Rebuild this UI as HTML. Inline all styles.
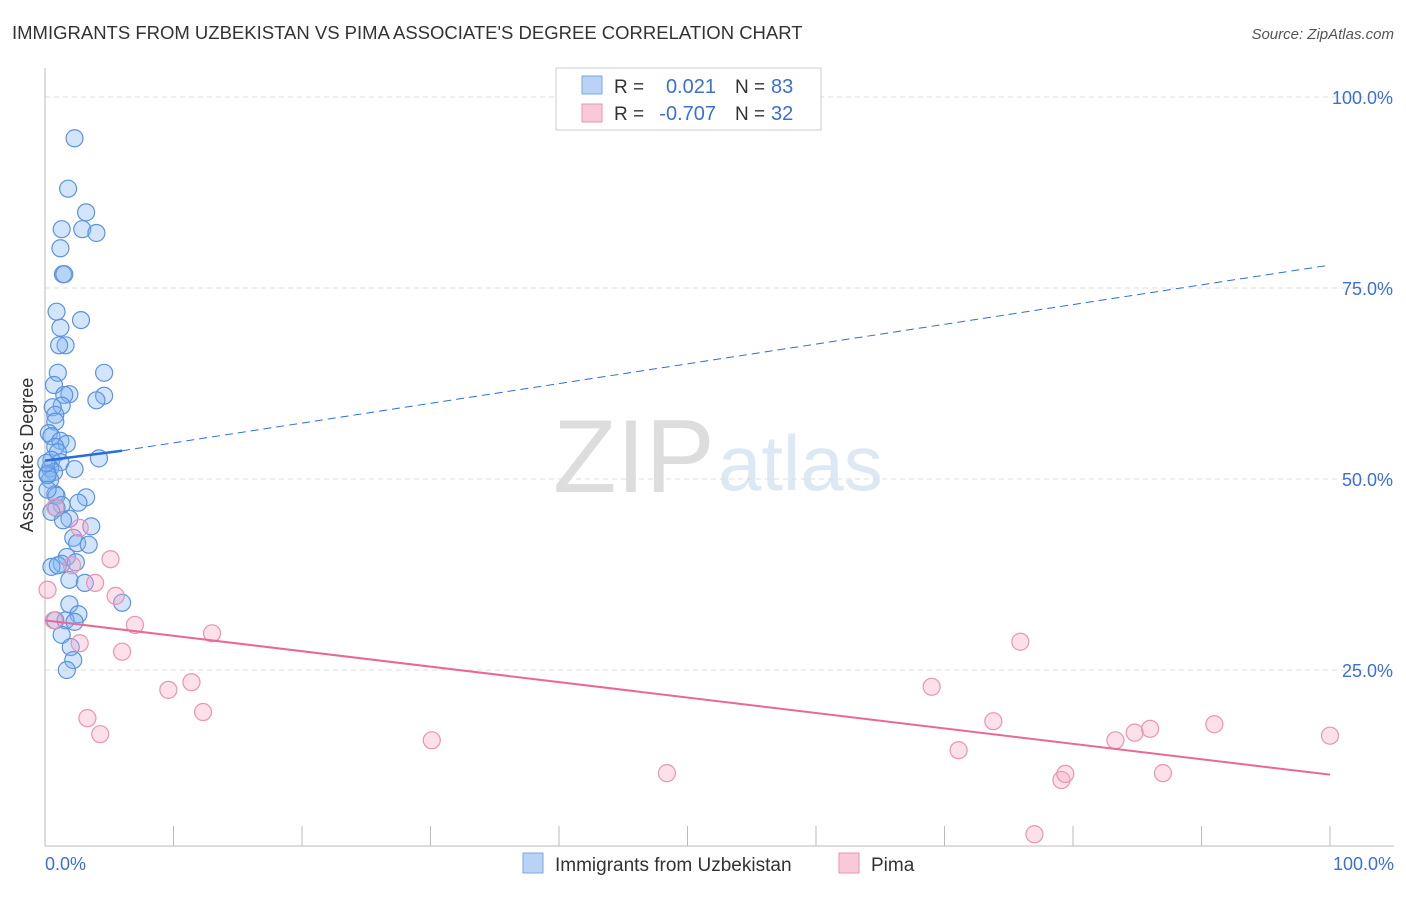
<!DOCTYPE html>
<html><head><meta charset="utf-8"><style>
body{margin:0;background:#fff;font-family:"Liberation Sans",sans-serif}
svg text{font-family:"Liberation Sans",sans-serif}
</style></head><body>
<svg width="1406" height="892">
<text x="12" y="39" font-size="18.5" fill="#333">IMMIGRANTS FROM UZBEKISTAN VS PIMA ASSOCIATE'S DEGREE CORRELATION CHART</text>
<text x="1394" y="39" font-size="15" fill="#555" font-style="italic" text-anchor="end">Source: ZipAtlas.com</text>
<text x="553" y="492" font-size="104" fill="#ddd" font-family="Liberation Serif">ZIP</text>
<text x="718" y="490" font-size="78" fill="#dde8f5">atlas</text>
<g id="grid"></g>
<line x1="45" y1="68" x2="45" y2="846" stroke="#bbb"/>
<line x1="45" y1="846" x2="1394" y2="846" stroke="#bbb"/>
<g id="xticks"></g>
<text x="33" y="455" font-size="18" fill="#333" transform="rotate(-90 33 455)" text-anchor="middle">Associate's Degree</text>
<text x="45" y="870" font-size="18" fill="#3a6fd8">0.0%</text>
<text x="1394" y="870" font-size="18" fill="#3a6fd8" text-anchor="end">100.0%</text>
<g id="pts"></g>
<g id="lines"></g>
<g>
<rect x="556" y="68" width="265" height="62" fill="#fff" stroke="#ccc"/>
<rect x="582" y="76" width="20" height="18" fill="#b9d3f5" stroke="#7aa7e6"/>
<text x="614" y="93" font-size="19" fill="#333">R =</text>
<text x="716" y="93" font-size="20" fill="#3a6fd8" text-anchor="end">0.021</text>
<text x="735" y="93" font-size="19" fill="#333">N =</text>
<text x="771" y="93" font-size="20" fill="#3a6fd8">83</text>
<rect x="582" y="104" width="20" height="18" fill="#f9c9d8" stroke="#eb93b0"/>
<text x="614" y="120" font-size="19" fill="#333">R =</text>
<text x="716" y="120" font-size="20" fill="#3a6fd8" text-anchor="end">-0.707</text>
<text x="735" y="120" font-size="19" fill="#333">N =</text>
<text x="771" y="120" font-size="20" fill="#3a6fd8">32</text>
</g>
<g>
<rect x="523" y="853" width="20" height="20" fill="#b9d3f5" stroke="#7aa7e6"/>
<text x="555" y="871" font-size="19" fill="#333">Immigrants from Uzbekistan</text>
<rect x="839" y="853" width="20" height="20" fill="#f9c9d8" stroke="#eb93b0"/>
<text x="871" y="871" font-size="19" fill="#333">Pima</text>
</g>
</svg>
<script>
const yTicks=[25,50,75,100];
const yTickLabels=["25.0%","50.0%","75.0%","100.0%"];
const xTicks=[0,10,20,30,40,50,60,70,80,90,100];
const blueX=[2.3,1.8,3.2,2.9,1.3,4.0,1.2,1.4,1.5,0.9,2.8,1.2,1.6,1.1,4.6,1.0,0.7,1.9,1.5,4.6,4.0,1.3,0.6,0.8,0.8,0.3,0.5,1.2,1.7,0.8,1.0,0.5,1.2,4.2,2.3,0.4,0.7,0.2,0.4,0.8,0.9,3.2,2.6,1.3,0.9,0.5,1.9,1.4,3.6,2.2,2.5,3.4,1.7,1.3,2.4,0.5,1.0,1.9,3.1,6.0,1.9,2.6,0.8,1.6,2.3,1.3,2.0,2.2,1.7,0.2,0.1,0.2];
const blueY=[94.6,88.0,84.9,82.7,82.7,82.2,80.2,76.8,76.8,71.9,70.8,69.8,67.5,67.5,63.9,63.9,62.3,61.1,61.0,60.9,60.3,59.6,59.4,58.4,57.5,56.0,55.6,55.0,54.6,54.2,53.5,52.5,52.2,52.7,51.3,51.4,50.9,50.7,49.9,48.0,47.8,47.6,46.9,46.6,46.2,45.7,44.8,44.6,43.8,42.3,41.6,41.4,39.8,38.9,39.1,38.5,38.7,36.8,36.4,33.8,33.6,32.3,31.5,31.5,31.3,29.6,28.0,26.3,25.0,50.5,52.1,48.6];
const pinkX=[5.1,0.2,3.9,5.5,7.0,13.0,2.7,6.0,9.6,11.4,12.3,3.3,4.3,30.1,48.4,69.0,71.1,73.8,75.9,77.0,79.1,79.4,83.3,84.8,86.0,87.0,91.0,100.0,2.1,0.8,2.7,0.7];
const pinkY=[39.5,35.5,36.4,34.7,30.9,29.8,28.5,27.4,22.4,23.4,19.5,18.7,16.6,15.8,11.5,22.8,14.5,18.3,28.7,3.5,10.6,11.4,15.8,16.8,17.3,11.5,17.9,16.4,38.7,46.3,43.6,31.5];
const trendBlue=[[0,52.4],[6,53.7],[100,78.0]];
const trendPink=[[0,31.5],[100,11.3]];
const X=v=>45+v*12.85, Y=v=>861-v*7.64;
const NS="http://www.w3.org/2000/svg";
function mk(t,a,p){const e=document.createElementNS(NS,t);for(const k in a)e.setAttribute(k,a[k]);p.appendChild(e);return e;}
const grid=document.getElementById('grid');
yTicks.forEach((t,i)=>{
 const l=mk('line',{x1:45,x2:1394,y1:Y(t),y2:Y(t),stroke:'#ddd','stroke-dasharray':'5,4'},grid);
 
 
 const tx=mk('text',{x:1393,y:Y(t)+7,'font-size':18,fill:'#3a6fd8','text-anchor':'end'},grid);
 tx.textContent=yTickLabels[i];
 
 
});
const xt=document.getElementById('xticks');
xTicks.forEach(t=>{
 const l=mk('line',{x1:X(t),x2:X(t),y1:826,y2:846,stroke:'#bbb'},xt);
 
 
});
const pts=document.getElementById('pts');
blueX.forEach((v,i)=>{
 const c=mk('circle',{cx:X(v),cy:Y(blueY[i]),r:8.5,fill:'rgba(130,180,240,0.35)',stroke:'#5b93e0','stroke-width':1.2},pts);
 
 
});
pinkX.forEach((v,i)=>{
 const c=mk('circle',{cx:X(v),cy:Y(pinkY[i]),r:8.5,fill:'rgba(245,170,195,0.35)',stroke:'#eb93b0','stroke-width':1.2},pts);
 
 
});
const ln=document.getElementById('lines');
let a=mk('line',{x1:X(trendBlue[0][0]),y1:Y(trendBlue[0][1]),x2:X(trendBlue[1][0]),y2:Y(trendBlue[1][1]),stroke:'#2b6fd6','stroke-width':2.5},ln);


a=mk('line',{x1:X(trendBlue[1][0]),y1:Y(trendBlue[1][1]),x2:X(trendBlue[2][0]),y2:Y(trendBlue[2][1]),stroke:'#2b6fd6','stroke-width':1,'stroke-dasharray':'8,5'},ln);


a=mk('line',{x1:X(trendPink[0][0]),y1:Y(trendPink[0][1]),x2:X(trendPink[1][0]),y2:Y(trendPink[1][1]),stroke:'#e8689a','stroke-width':2},ln);


</script>
</body></html>
